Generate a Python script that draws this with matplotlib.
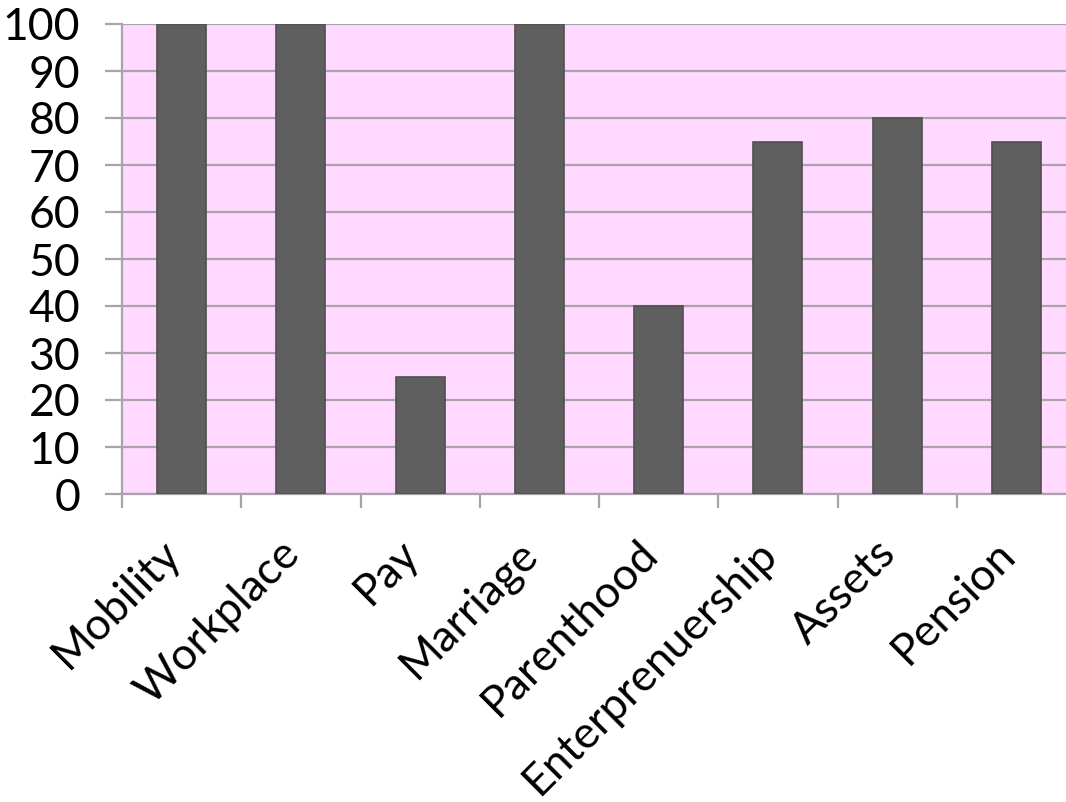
import numpy as np
import matplotlib.pyplot as plt
import matplotlib.transforms as mtransforms

categories = ['Mobility', 'Workplace', 'Pay', 'Marriage', 'Parenthood',
              'Enterprenuership', 'Assets', 'Pension']
scores = [100, 100, 25, 100, 40, 75, 80, 75]

plt.rcParams['font.family'] = ['Lato', 'DejaVu Sans']

fig = plt.figure(figsize=(10.66, 8.02), dpi=100)
ax = fig.add_axes([122 / 1066, 1 - 494 / 802, 954 / 1066, 470 / 802])
ax.set_facecolor('#FFD9FF')

x = np.arange(len(categories))
ax.bar(x, scores, width=0.41, color='#5F5F5F', edgecolor='#505050',
       linewidth=1.2, zorder=3)

ax.set_xlim(-0.5, len(categories) - 0.5)
ax.set_ylim(0, 100)
ax.set_yticks(range(0, 101, 10))
ax.grid(axis='y', color='#ABA3AB', linewidth=1.6, zorder=1)
ax.tick_params(axis='y', length=12, width=1.6, color='#ABA3AB',
               labelsize=32, pad=18)

# tick marks between categories, labels at centres
ax.set_xticks(np.arange(len(categories) + 1) - 0.5)
ax.set_xticklabels([])
ax.tick_params(axis='x', which='major', length=10, width=1.6, color='#ABA3AB')
ax.set_xticks(x, minor=True)
ax.set_xticklabels(categories, minor=True, rotation=45, ha='right',
                   va='top', rotation_mode='anchor', fontsize=32)
ax.tick_params(axis='x', which='minor', length=0, pad=30)

# nudge rotated labels left a bit
shift = mtransforms.ScaledTranslation(-0.22, 0.03, fig.dpi_scale_trans)
for lbl in ax.get_xticklabels(minor=True):
    lbl.set_transform(lbl.get_transform() + shift)

for side in ['top', 'right']:
    ax.spines[side].set_visible(False)
for side in ['left', 'bottom']:
    ax.spines[side].set_color('#ABA3AB')
    ax.spines[side].set_linewidth(1.6)

fig.savefig('out.png', dpi=100)
